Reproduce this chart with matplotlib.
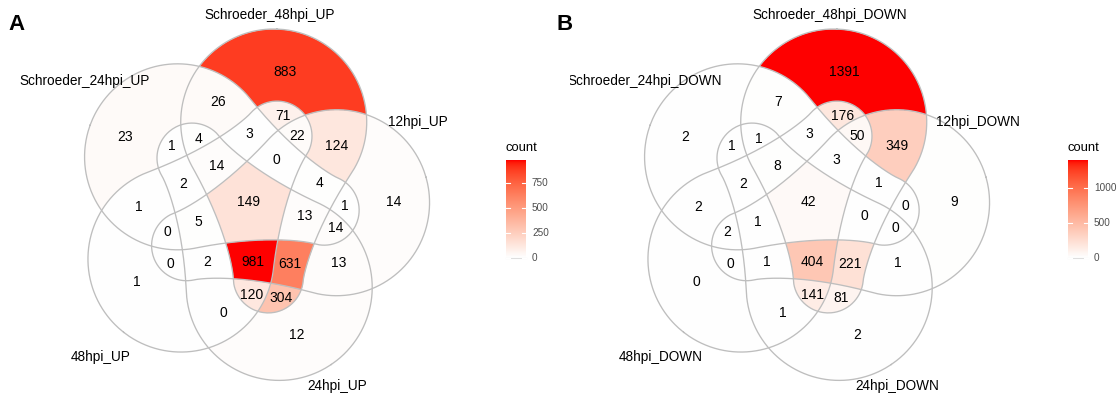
import numpy as np
import matplotlib
matplotlib.use("Agg")
import matplotlib.pyplot as plt
from matplotlib.colors import ListedColormap

plt.rcParams['font.family'] = ['Liberation Sans', 'DejaVu Sans']

# sets: a=Schroeder_48hpi, b=12hpi, c=24hpi, d=48hpi, e=Schroeder_24hpi
set_names_up = ["Schroeder_48hpi_UP", "12hpi_UP", "24hpi_UP", "48hpi_UP", "Schroeder_24hpi_UP"]
set_names_down = ["Schroeder_48hpi_DOWN", "12hpi_DOWN", "24hpi_DOWN", "48hpi_DOWN", "Schroeder_24hpi_DOWN"]

regions = ["a", "b", "c", "d", "e",
           "ab", "ac", "ad", "ae", "bc", "bd", "be", "cd", "ce", "de",
           "abc", "abd", "abe", "acd", "ace", "ade", "bcd", "bce", "bde", "cde",
           "abcd", "abce", "abde", "acde", "bcde", "abcde"]
counts_up = [883, 14, 12, 1, 23,
             124, 304, 71, 26, 13, 0, 1, 0, 1, 1,
             631, 22, 4, 120, 4, 3, 2, 14, 0, 2,
             981, 13, 0, 14, 5, 149]
counts_down = [1391, 9, 2, 0, 2,
               349, 81, 176, 7, 1, 0, 0, 1, 1, 2,
               221, 50, 1, 141, 1, 3, 1, 0, 2, 2,
               404, 0, 3, 8, 1, 42]
ticks_up = [0, 250, 500, 750]
ticks_down = [0, 500, 1000]


# white -> red ramp interpolated in CIELAB (like ggplot's gradient)
def srgb_to_lab(rgb):
    rgb = np.asarray(rgb, float)
    lin = np.where(rgb <= 0.04045, rgb / 12.92, ((rgb + 0.055) / 1.055) ** 2.4)
    M = np.array([[0.4124564, 0.3575761, 0.1804375],
                  [0.2126729, 0.7151522, 0.0721750],
                  [0.0193339, 0.1191920, 0.9503041]])
    t = (lin @ M.T) / np.array([0.95047, 1.0, 1.08883])
    f = np.where(t > (6 / 29) ** 3, np.cbrt(t), t / (3 * (6 / 29) ** 2) + 4 / 29)
    return np.stack([116 * f[..., 1] - 16, 500 * (f[..., 0] - f[..., 1]), 200 * (f[..., 1] - f[..., 2])], -1)


def lab_to_srgb(lab):
    L, a, b = lab[..., 0], lab[..., 1], lab[..., 2]
    fy = (L + 16) / 116
    f = np.stack([fy + a / 500, fy, fy - b / 200], -1)
    t = np.where(f > 6 / 29, f ** 3, 3 * (6 / 29) ** 2 * (f - 4 / 29)) * np.array([0.95047, 1.0, 1.08883])
    Minv = np.array([[3.2404542, -1.5371385, -0.4985314],
                     [-0.9692660, 1.8760108, 0.0415560],
                     [0.0556434, -0.2040259, 1.0572252]])
    lin = np.clip(t @ Minv.T, 0, 1)
    return np.where(lin <= 0.0031308, lin * 12.92, 1.055 * lin ** (1 / 2.4) - 0.055)


lab0 = srgb_to_lab([1.0, 1.0, 1.0])
lab1 = srgb_to_lab([1.0, 0.0, 0.0])
tt = np.linspace(0, 1, 256)[:, None]
cmap = ListedColormap(np.clip(lab_to_srgb(lab0 + (lab1 - lab0) * tt), 0, 1))

# shape geometry (panel pixel coords, y down): five pear shapes rotated by 72 deg
cx, cy = 249.6, 205.6
r_head_pos = 87.0
theta0 = -73.9
alpha0 = 92.0
rh, rt, dtip = 93.0, 35.0, 156.0
p = 1.4

s = np.linspace(0, dtip, 400)
rs = rt + (rh - rt) * (1 - s / dtip) ** p
u_prof = np.linspace(-rh, dtip + rt, 1200)
w2 = rs[None, :] ** 2 - (u_prof[:, None] - s[None, :]) ** 2
w_prof = np.sqrt(np.clip(w2.max(axis=1), 0, None))
w_prof[0] = 0
w_prof[-1] = 0

step = 0.25
xs = np.arange(60, 450, step)
ys = np.arange(10, 395, step)
X, Y = np.meshgrid(xs, ys)
code = np.zeros(X.shape, int)
outlines = []
for k in range(5):
    th = np.deg2rad(theta0 + 72 * k)
    hx, hy = cx + r_head_pos * np.cos(th), cy + r_head_pos * np.sin(th)
    al = np.deg2rad(alpha0 + 72 * k)
    d = np.array([np.cos(al), np.sin(al)])
    n = np.array([-d[1], d[0]])
    u = (X - hx) * d[0] + (Y - hy) * d[1]
    v = (X - hx) * n[0] + (Y - hy) * n[1]
    w = np.interp(u, u_prof, w_prof, left=-1, right=-1)
    code += ((np.abs(v) <= w) & (w >= 0)).astype(int) << k
    px = np.concatenate([hx + u_prof * d[0] + w_prof * n[0], (hx + u_prof * d[0] - w_prof * n[0])[::-1]])
    py = np.concatenate([hy + u_prof * d[1] + w_prof * n[1], (hy + u_prof * d[1] - w_prof * n[1])[::-1]])
    outlines.append((px, py))

code_of = {r: sum(1 << "abcde".index(ch) for ch in r) for r in regions}


def erode(m, it):
    m = m.copy()
    for _ in range(it):
        e = m.copy()
        e[1:] &= m[:-1]
        e[:-1] &= m[1:]
        e[:, 1:] &= m[:, :-1]
        e[:, :-1] &= m[:, 1:]
        m = e
    return m


# label point: middle of widest run on the row through the bbox middle
def label_point(m):
    m = erode(m, 6)
    rows = np.where(m.any(axis=1))[0]
    ri = int(round((rows[0] + rows[-1]) / 2))
    while not m[ri].any():
        ri += 1
    row = np.concatenate([[0], m[ri].astype(int), [0]])
    dif = np.diff(row)
    starts, ends = np.where(dif == 1)[0], np.where(dif == -1)[0]
    j = np.argmax(ends - starts)
    return xs[(starts[j] + ends[j] - 1) // 2], ys[ri]


centers = {r: label_point(code == code_of[r]) for r in regions}


def draw_panel(ax, counts, names, cb_x, ticks):
    vmax = max(counts)
    lut = np.zeros(32)
    for r, c in zip(regions, counts):
        lut[code_of[r]] = c
    rgba = cmap(lut[code] / vmax)
    rgba[code == 0, 3] = 0
    ax.imshow(rgba, extent=[xs[0] - step / 2, xs[-1] + step / 2, ys[-1] + step / 2, ys[0] - step / 2],
              interpolation='antialiased', zorder=1)
    for px, py in outlines:
        ax.plot(px, py, color='#bebebe', lw=0.95, zorder=2)
    for r, c in zip(regions, counts):
        ax.text(centers[r][0], centers[r][1], str(c), ha='center', va='center', fontsize=10, zorder=3)

    label_pos = [(270, 15), (418, 122), (337, 386), (101, 357), (85, 81)]
    for (lx, ly), nm in zip(label_pos, names):
        ax.text(lx, ly, nm, ha='center', va='center', fontsize=9.8, clip_on=True)

    # colour bar
    y_top, y_bot = 160, 258
    grad = np.linspace(1, 0, 200)[:, None]
    ax.imshow(grad, cmap=cmap, vmin=0, vmax=1, aspect='auto',
              extent=[cb_x, cb_x + 20, y_bot, y_top], zorder=1)
    ax.plot([cb_x, cb_x + 20], [y_bot, y_bot], color='#dedede', lw=0.8, zorder=2)
    ax.text(cb_x - 1, 148, "count", ha='left', va='center', fontsize=9.4)
    for tv in ticks:
        ty = y_bot - (y_bot - y_top) * tv / vmax
        ax.plot([cb_x, cb_x + 4], [ty, ty], color='white', lw=0.8, zorder=2)
        ax.plot([cb_x + 16, cb_x + 20], [ty, ty], color='white', lw=0.8, zorder=2)
        ax.text(cb_x + 26, ty, str(tv), ha='left', va='center', fontsize=7.2, color='#4d4d4d')


fig = plt.figure(figsize=(11.18, 3.95), dpi=100)

ax1 = fig.add_axes([0, 0, 560 / 1118, 1])
ax1.axis('off')
draw_panel(ax1, counts_up, set_names_up, 506, ticks_up)
ax1.set_xlim(0, 560)
ax1.set_ylim(395, 0)

ax2 = fig.add_axes([570 / 1118, 0, 548 / 1118, 1])
ax2.axis('off')
draw_panel(ax2, counts_down, set_names_down, 508, ticks_down)
ax2.set_xlim(10, 558)
ax2.set_ylim(395, 0)

fig.text(8 / 1118, 1 - 25 / 395, "A", fontsize=16, fontweight='bold', ha='left', va='center')
fig.text(557 / 1118, 1 - 25 / 395, "B", fontsize=16, fontweight='bold', ha='left', va='center')

fig.savefig("out.png", dpi=100)
